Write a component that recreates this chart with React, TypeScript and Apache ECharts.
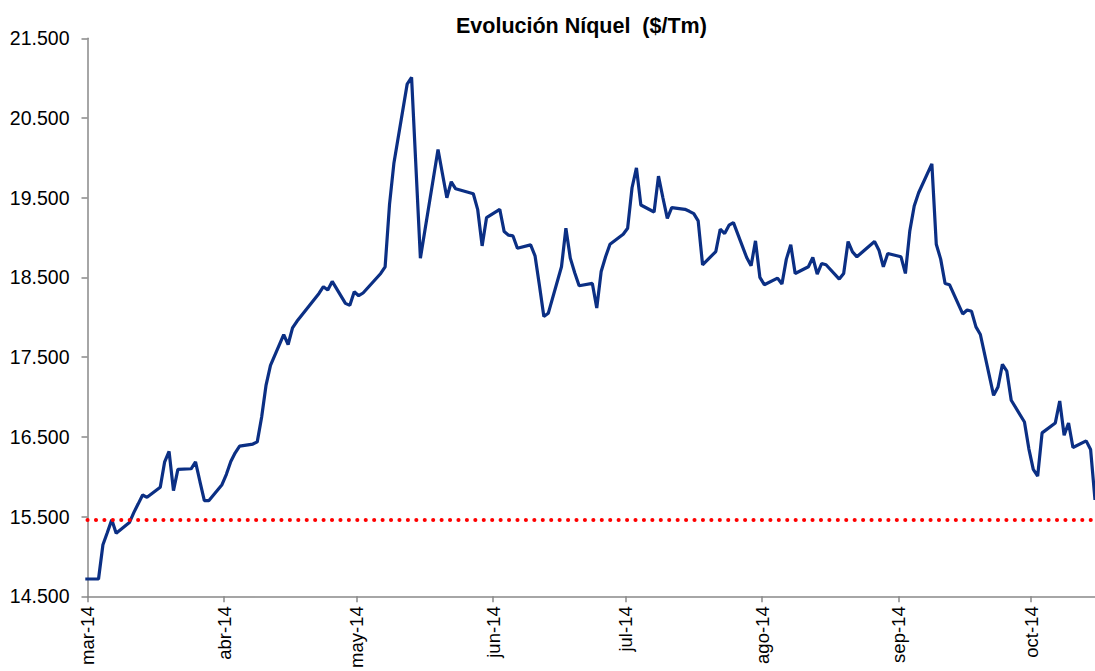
import React, { useEffect, useRef } from "react";
import * as echarts from "echarts";

// Trading dates (LME) and nickel cash price, $/Tm
const dates = [
  "2014-02-28",
  "2014-03-03", "2014-03-04", "2014-03-05", "2014-03-06", "2014-03-07",
  "2014-03-10", "2014-03-11", "2014-03-12", "2014-03-13", "2014-03-14",
  "2014-03-17", "2014-03-18", "2014-03-19", "2014-03-20", "2014-03-21",
  "2014-03-24", "2014-03-25", "2014-03-26", "2014-03-27", "2014-03-28",
  "2014-03-31", "2014-04-01", "2014-04-02", "2014-04-03", "2014-04-04",
  "2014-04-07", "2014-04-08", "2014-04-09", "2014-04-10", "2014-04-11",
  "2014-04-14", "2014-04-15", "2014-04-16", "2014-04-17",
  "2014-04-22", "2014-04-23", "2014-04-24", "2014-04-25",
  "2014-04-28", "2014-04-29", "2014-04-30", "2014-05-01", "2014-05-02",
  "2014-05-06", "2014-05-07", "2014-05-08", "2014-05-09",
  "2014-05-12", "2014-05-13", "2014-05-14", "2014-05-15", "2014-05-16",
  "2014-05-19", "2014-05-20", "2014-05-21", "2014-05-22", "2014-05-23",
  "2014-05-27", "2014-05-28", "2014-05-29", "2014-05-30",
  "2014-06-02", "2014-06-03", "2014-06-04", "2014-06-05", "2014-06-06",
  "2014-06-09", "2014-06-10", "2014-06-11", "2014-06-12", "2014-06-13",
  "2014-06-16", "2014-06-17", "2014-06-18", "2014-06-19", "2014-06-20",
  "2014-06-23", "2014-06-24", "2014-06-25", "2014-06-26", "2014-06-27",
  "2014-06-30", "2014-07-01", "2014-07-02", "2014-07-03", "2014-07-04",
  "2014-07-07", "2014-07-08", "2014-07-09", "2014-07-10", "2014-07-11",
  "2014-07-14", "2014-07-15", "2014-07-16", "2014-07-17", "2014-07-18",
  "2014-07-21", "2014-07-22", "2014-07-23", "2014-07-24", "2014-07-25",
  "2014-07-28", "2014-07-29", "2014-07-30", "2014-07-31", "2014-08-01",
  "2014-08-04", "2014-08-05", "2014-08-06", "2014-08-07", "2014-08-08",
  "2014-08-11", "2014-08-12", "2014-08-13", "2014-08-14", "2014-08-15",
  "2014-08-18", "2014-08-19", "2014-08-20", "2014-08-21", "2014-08-22",
  "2014-08-26", "2014-08-27", "2014-08-28", "2014-08-29",
  "2014-09-01", "2014-09-02", "2014-09-03", "2014-09-04", "2014-09-05",
  "2014-09-08", "2014-09-09", "2014-09-10", "2014-09-11", "2014-09-12",
  "2014-09-15", "2014-09-16", "2014-09-17", "2014-09-18", "2014-09-19",
  "2014-09-22", "2014-09-23", "2014-09-24", "2014-09-25", "2014-09-26",
  "2014-09-29", "2014-09-30", "2014-10-01", "2014-10-02", "2014-10-03",
  "2014-10-06", "2014-10-07", "2014-10-08", "2014-10-09", "2014-10-10",
  "2014-10-13", "2014-10-14", "2014-10-15",
];

const prices = [
  14717,
  14717, 15146, 15300, 15459, 15292,
  15425, 15550, 15660, 15771, 15742,
  15867, 16187, 16317, 15825, 16092,
  16100, 16187, 15940, 15700, 15700,
  15900, 16030, 16190, 16300, 16384,
  16410, 16437, 16750, 17150, 17396,
  17784, 17659, 17867, 17950,
  18300, 18384, 18342, 18450,
  18175, 18150, 18320, 18271, 18305,
  18550, 18634, 19417, 19937,
  20925, 21009, 19875, 18742, 19083,
  20105, 19800, 19500, 19700, 19612,
  19550, 19350, 18896, 19250,
  19355, 19075, 19030, 19021, 18867,
  18909, 18771, 18400, 18009, 18050,
  18634, 19117, 18742, 18560, 18396,
  18425, 18117, 18575, 18760, 18917,
  19042, 19117, 19625, 19875, 19409,
  19321, 19771, 19500, 19242, 19375,
  19355, 19330, 19300, 19209, 18659,
  18825, 19105, 19050, 19155, 19187,
  18750, 18646, 18959, 18500, 18409,
  18492, 18417, 18730, 18909, 18550,
  18634, 18750, 18542, 18675, 18659,
  18480, 18550, 18950, 18820, 18759,
  18950, 18842, 18634, 18800,
  18759, 18550, 19084, 19396, 19562,
  19925, 18917, 18730, 18425, 18409,
  18042, 18092, 18075, 17880, 17784,
  17021, 17125, 17409, 17325, 16959,
  16687, 16350, 16092, 16009, 16550,
  16675, 16950, 16521, 16675, 16367,
  16450, 16342, 15709,
];

const referenceLevel = 15460;

const monthStarts = [
  "2014-03-01", "2014-04-01", "2014-05-01", "2014-06-01",
  "2014-07-01", "2014-08-01", "2014-09-01", "2014-10-01",
];
const monthLabels = ["mar-14", "abr-14", "may-14", "jun-14", "jul-14", "ago-14", "sep-14", "oct-14"];

const axisStart = "2014-03-01";
const axisEndDate = "2014-10-15";

const yMin = 14500;
const yMax = 21500;
const yStep = 1000;

const HALF_DAY = 12 * 3600 * 1000;
const toTs = (s: string) => {
  const [y, m, d] = s.split("-").map(Number);
  return Date.UTC(y, m - 1, d);
};
const fmtThousands = (v: number) => String(v).replace(/\B(?=(\d{3})+(?!\d))/g, ".");

export default function App() {
  const ref = useRef<HTMLDivElement>(null);

  useEffect(() => {
    if (!ref.current) return;
    const chart = echarts.init(ref.current, null, { renderer: "svg" });
    const monthTs = monthStarts.map(toTs);
    const seriesData = dates.map((d, i) => [toTs(d) + HALF_DAY, prices[i]]);
    const font = "'Liberation Sans', Arial, sans-serif";

    chart.setOption({
      animation: false,
      backgroundColor: "#ffffff",
      title: {
        text: "Evolución Níquel  ($/Tm)",
        left: 451,
        top: 10,
        textStyle: { fontFamily: font, fontSize: 21.5, fontWeight: "bold", color: "#000000" },
      },
      grid: { left: 87.5, right: 0, top: 38.3, bottom: 74.3 },
      xAxis: {
        type: "value",
        min: toTs(axisStart),
        max: toTs(axisEndDate) + HALF_DAY,
        axisLine: { show: true, onZero: false, lineStyle: { color: "#888888", width: 1.5 } },
        axisTick: { show: true, length: 6, lineStyle: { color: "#888888", width: 1.5 }, customValues: monthTs },
        axisLabel: {
          customValues: monthTs,
          rotate: 90,
          margin: 10,
          fontFamily: font,
          fontSize: 18.5,
          color: "#000000",
          hideOverlap: false,
          formatter: (v: number) => {
            const idx = monthTs.findIndex((t) => Math.abs(t - v) < HALF_DAY);
            return idx >= 0 ? monthLabels[idx] : "";
          },
        },
        splitLine: { show: false },
      },
      yAxis: {
        type: "value",
        min: yMin,
        max: yMax,
        interval: yStep,
        axisLine: { show: true, lineStyle: { color: "#888888", width: 1.5 } },
        axisTick: { show: true, length: 6, lineStyle: { color: "#888888", width: 1.5 } },
        axisLabel: {
          margin: 18,
          fontFamily: font,
          fontSize: 19.5,
          color: "#000000",
          formatter: (v: number) => fmtThousands(v),
        },
        splitLine: { show: false },
      },
      series: [
        {
          type: "line",
          name: "Níquel",
          data: seriesData,
          showSymbol: false,
          clip: true,
          lineStyle: { color: "#0B2F84", width: 3.2 },
          markLine: {
            silent: true,
            symbol: "none",
            label: { show: false },
            lineStyle: { color: "#FF0000", type: [0.1, 8.33], width: 4, cap: "round" },
            data: [{ yAxis: referenceLevel }],
          },
        },
      ],
    });

    return () => chart.dispose();
  }, []);

  return (
    <div
      ref={ref}
      style={{ position: "fixed", left: 0, top: 0, width: 1095, height: 671, background: "#fff" }}
    />
  );
}
